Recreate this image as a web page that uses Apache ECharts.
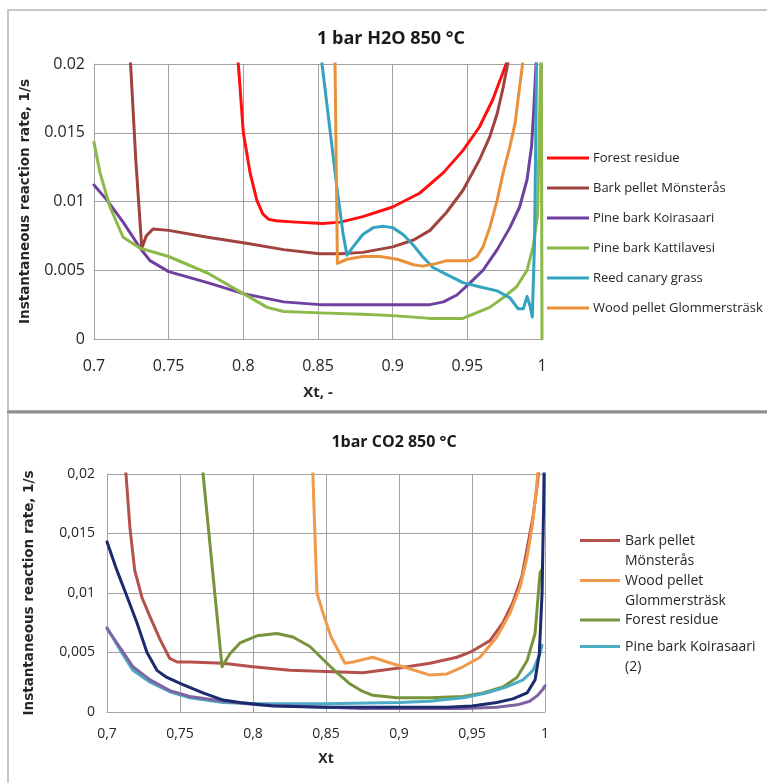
<!DOCTYPE html>
<html>
<head>
<meta charset="utf-8">
<script src="https://cdn.jsdelivr.net/npm/echarts@6/dist/echarts.min.js"></script>
<style>html,body{margin:0;padding:0;background:#fff}#c{width:767px;height:783px}</style>
</head>
<body>
<div id="c"></div>
<script>
// ---------- tick labels ----------
const xTicksTop = ['0.7','0.75','0.8','0.85','0.9','0.95','1'];
const yTicksTop = ['0','0.005','0.01','0.015','0.02'];
const xTicksBot = ['0,7','0,75','0,8','0,85','0,9','0,95','1'];
const yTicksBot = ['0','0,005','0,01','0,015','0,02'];

// ---------- top chart: 1 bar H2O 850 °C ----------
const topNames = ['Forest residue','Bark pellet Mönsterås','Pine bark Koirasaari','Pine bark Kattilavesi','Reed canary grass','Wood pellet Glommersträsk'];
const topColors = ['#FF1010','#A0433F','#7040A0','#8DB84A','#33A3BF','#E8903A'];

const h2oForest = [[0.7955,0.0215],[0.797,0.0195],[0.800,0.0150],[0.8045,0.0121],[0.809,0.0101],[0.813,0.0091],[0.817,0.0087],[0.822,0.0086],[0.835,0.0085],[0.853,0.0084],[0.865,0.0085],[0.880,0.0089],[0.900,0.0096],[0.918,0.0106],[0.934,0.0121],[0.947,0.0137],[0.958,0.0154],[0.967,0.0174],[0.976,0.0200],[0.980,0.0215]];
const h2oBark = [[0.7235,0.0215],[0.7245,0.0200],[0.728,0.0130],[0.732,0.0066],[0.735,0.0075],[0.7395,0.0080],[0.750,0.0079],[0.776,0.0074],[0.800,0.0070],[0.827,0.0065],[0.851,0.0062],[0.865,0.0062],[0.880,0.0063],[0.900,0.0067],[0.914,0.0072],[0.925,0.0079],[0.936,0.0092],[0.947,0.0108],[0.958,0.0130],[0.965,0.0147],[0.970,0.0164],[0.974,0.0183],[0.977,0.0200],[0.979,0.0215]];
const h2oKoirasaari = [[0.700,0.0112],[0.7087,0.0101],[0.7195,0.0085],[0.731,0.0066],[0.7375,0.0057],[0.750,0.0049],[0.776,0.0041],[0.800,0.0033],[0.827,0.0027],[0.851,0.0025],[0.880,0.0025],[0.925,0.0025],[0.934,0.0027],[0.943,0.0032],[0.952,0.0041],[0.9605,0.0050],[0.970,0.0065],[0.9785,0.0081],[0.985,0.0096],[0.990,0.0116],[0.993,0.0140],[0.9946,0.0169],[0.996,0.0200],[0.997,0.0215]];
const h2oKattilavesi = [[0.700,0.0143],[0.704,0.0121],[0.7107,0.0096],[0.7195,0.0074],[0.731,0.0066],[0.750,0.0060],[0.776,0.0048],[0.800,0.0033],[0.816,0.0023],[0.827,0.0020],[0.851,0.0019],[0.880,0.0018],[0.900,0.0017],[0.925,0.0015],[0.947,0.0015],[0.956,0.0019],[0.965,0.0023],[0.974,0.0030],[0.983,0.0038],[0.990,0.0050],[0.994,0.0067],[0.997,0.0090],[0.9995,0.0220],[1.000,0.0000]];
const h2oReed = [[0.852,0.0215],[0.8527,0.0200],[0.8627,0.0110],[0.8667,0.0077],[0.8694,0.0061],[0.8735,0.0067],[0.880,0.0076],[0.887,0.0081],[0.8935,0.0082],[0.900,0.0081],[0.907,0.0076],[0.914,0.0068],[0.920,0.0060],[0.927,0.0052],[0.936,0.0047],[0.947,0.0041],[0.958,0.0038],[0.970,0.0035],[0.9785,0.0030],[0.984,0.0022],[0.9875,0.0022],[0.990,0.0031],[0.992,0.0024],[0.9935,0.0016],[0.995,0.0070],[0.9965,0.0215]];
const h2oWood = [[0.861,0.0215],[0.8614,0.0200],[0.863,0.0055],[0.8694,0.0058],[0.880,0.0060],[0.8915,0.0060],[0.903,0.0058],[0.914,0.0054],[0.920,0.0053],[0.9297,0.0055],[0.936,0.0057],[0.952,0.0057],[0.9565,0.0060],[0.9605,0.0067],[0.965,0.0081],[0.970,0.0101],[0.974,0.0121],[0.9785,0.0140],[0.982,0.0157],[0.9845,0.0179],[0.987,0.0200],[0.988,0.0215]];

// ---------- bottom chart: 1bar CO2 850 °C ----------
const botNames = ['Bark pellet Mönsterås','Wood pellet Glommersträsk','Forest residue','Pine bark Koirasaari (2)','Pine bark Koirasaari','Pine bark Kattilavesi'];
const botLegendText = ['Bark pellet\nMönsterås','Wood pellet\nGlommersträsk','Forest residue','Pine bark Koirasaari\n(2)'];
const botColors = ['#B5514C','#F09A4C','#77933C','#4BACC6','#8064A2','#1C2A6E'];

const co2Bark = [[0.712,0.0215],[0.713,0.0200],[0.7157,0.0155],[0.719,0.0119],[0.724,0.0096],[0.7295,0.0080],[0.7363,0.0061],[0.743,0.0045],[0.748,0.0042],[0.757,0.0042],[0.7795,0.0041],[0.800,0.0038],[0.8253,0.0035],[0.850,0.0034],[0.8753,0.0033],[0.900,0.0037],[0.9212,0.0041],[0.9397,0.0046],[0.950,0.0051],[0.9623,0.0060],[0.9712,0.0075],[0.978,0.0092],[0.9842,0.0114],[0.988,0.0139],[0.9918,0.0164],[0.9945,0.0189],[0.9955,0.0200],[0.996,0.0215]];
const co2Wood = [[0.8405,0.0215],[0.841,0.0200],[0.8438,0.0100],[0.848,0.0083],[0.8535,0.0063],[0.863,0.0041],[0.8685,0.0042],[0.882,0.0046],[0.8918,0.0042],[0.9055,0.0037],[0.9212,0.0031],[0.9329,0.0032],[0.9438,0.0038],[0.9555,0.0046],[0.967,0.0063],[0.976,0.0083],[0.9829,0.0105],[0.9877,0.0130],[0.9911,0.0155],[0.9938,0.0184],[0.995,0.0200],[0.9955,0.0215]];
const co2Forest = [[0.7655,0.0215],[0.7658,0.0200],[0.7788,0.0038],[0.7842,0.0049],[0.7911,0.0058],[0.8027,0.0064],[0.8164,0.0066],[0.8274,0.0063],[0.839,0.0055],[0.8507,0.0041],[0.8575,0.0033],[0.866,0.0024],[0.874,0.0018],[0.882,0.0014],[0.8986,0.0012],[0.9212,0.0012],[0.9438,0.0013],[0.9575,0.0016],[0.9712,0.0021],[0.9808,0.0029],[0.9877,0.0043],[0.9932,0.0066],[0.9966,0.0117],[0.998,0.0120]];
const co2Koirasaari2 = [[0.700,0.0071],[0.709,0.0052],[0.7178,0.0035],[0.7295,0.0025],[0.743,0.0017],[0.7568,0.0012],[0.7795,0.0008],[0.8027,0.0007],[0.850,0.0007],[0.900,0.0008],[0.921,0.0009],[0.944,0.0012],[0.9598,0.0016],[0.9733,0.0021],[0.985,0.0027],[0.9918,0.0035],[0.9966,0.0049],[0.998,0.0056]];
const co2Purple = [[0.700,0.0070],[0.709,0.0054],[0.7178,0.0038],[0.7295,0.0027],[0.743,0.0018],[0.7568,0.0013],[0.7795,0.0009],[0.8027,0.0006],[0.8253,0.0005],[0.850,0.0004],[0.875,0.0003],[0.944,0.0003],[0.967,0.0004],[0.981,0.0006],[0.9895,0.0009],[0.995,0.0014],[0.9985,0.0019],[1.000,0.0022]];
const co2Navy = [[0.700,0.0143],[0.7068,0.0119],[0.7137,0.0097],[0.7205,0.0075],[0.7274,0.0050],[0.7342,0.0035],[0.741,0.0029],[0.752,0.0023],[0.7658,0.0016],[0.7795,0.0010],[0.791,0.0008],[0.8137,0.0005],[0.849,0.0004],[0.933,0.0004],[0.950,0.0005],[0.967,0.0008],[0.978,0.0011],[0.9877,0.0016],[0.9932,0.0027],[0.9961,0.0049],[0.998,0.0100],[0.999,0.0170],[0.9995,0.0215]];

const topData = [h2oForest, h2oBark, h2oKoirasaari, h2oKattilavesi, h2oReed, h2oWood];
const botData = [co2Bark, co2Wood, co2Forest, co2Koirasaari2, co2Purple, co2Navy];

// ---------- build ----------
const TXT = '#262626';
const GRID = '#A3A3A3';
const OS = 'Open Sans, Liberation Sans, sans-serif';

function xAxisCfg(gi, labels, fs, margin, name, nameGap, nfs) {
  return {
    type: 'value', gridIndex: gi, min: 0.7, max: 1, interval: 0.05,
    axisLine: { show: true, lineStyle: { color: GRID, width: 1 } },
    axisTick: { show: false },
    splitLine: { show: true, lineStyle: { color: GRID, width: 1 } },
    axisLabel: { color: TXT, fontFamily: OS, fontSize: fs, margin: margin,
      formatter: v => labels[Math.round((v - 0.7) / 0.05)] },
    name: name, nameLocation: 'middle', nameGap: nameGap,
    nameTextStyle: { color: TXT, fontFamily: OS, fontWeight: 'bold', fontSize: nfs }
  };
}
function yAxisCfg(gi, labels, fs, margin, nameGap) {
  return {
    type: 'value', gridIndex: gi, min: 0, max: 0.02, interval: 0.005,
    axisLine: { show: true, lineStyle: { color: GRID, width: 1 } },
    axisTick: { show: false },
    splitLine: { show: true, lineStyle: { color: GRID, width: 1 } },
    axisLabel: { color: TXT, fontFamily: OS, fontSize: fs, margin: margin,
      formatter: v => labels[Math.round(v / 0.005)] },
    name: 'Instantaneous reaction rate, 1/s', nameLocation: 'middle', nameGap: nameGap, nameRotate: 90,
    nameTextStyle: { color: TXT, fontFamily: 'DejaVu Sans', fontWeight: 'bold', fontSize: 13.5 }
  };
}

const series = [];
topData.forEach((d, i) => series.push({
  type: 'line', name: topNames[i], data: d, xAxisIndex: 0, yAxisIndex: 0,
  showSymbol: false, clip: true,
  lineStyle: { color: topColors[i], width: 3, join: 'round', cap: 'round' },
  itemStyle: { color: topColors[i] }, z: 3
}));
botData.forEach((d, i) => series.push({
  type: 'line', name: botNames[i], data: d, xAxisIndex: 1, yAxisIndex: 1,
  showSymbol: false, clip: true,
  lineStyle: { color: botColors[i], width: 3, join: 'round', cap: 'round' },
  itemStyle: { color: botColors[i] }, z: 3
}));

const ICON_TOPLINE = 'path://M0,0H40V3H0Z M0,23.99H0.01V24H0Z';

const option = {
  animation: false,
  backgroundColor: '#fff',
  title: [
    { text: '1 bar H2O 850 °C', left: 391, top: 30, textAlign: 'center', padding: 0,
      textStyle: { fontFamily: OS, fontWeight: 'bold', fontSize: 18, color: '#1a1a1a' } },
    { text: '1bar CO2 850 °C', left: 394, top: 434, textAlign: 'center', padding: 0,
      textStyle: { fontFamily: OS, fontWeight: 'bold', fontSize: 16, color: '#1a1a1a' } }
  ],
  grid: [
    { left: 94, top: 64, width: 448, height: 275, outerBoundsMode: 'none', containLabel: false },
    { left: 107, top: 474, width: 438, height: 238, outerBoundsMode: 'none', containLabel: false }
  ],
  xAxis: [
    xAxisCfg(0, xTicksTop, 16, 19, 'Xt, -', 46, 15),
    xAxisCfg(1, xTicksBot, 14, 15, 'Xt', 40, 14)
  ],
  yAxis: [
    yAxisCfg(0, yTicksTop, 16, 9, 62),
    yAxisCfg(1, yTicksBot, 14, 12, 71)
  ],
  legend: [
    { orient: 'vertical', left: 547, top: 151, itemWidth: 42, itemHeight: 3, itemGap: 16, padding: 0,
      icon: 'rect', itemStyle: { borderWidth: 0 },
      textStyle: { fontFamily: OS, fontSize: 13, lineHeight: 14, color: TXT, padding: [0,0,0,-1] },
      data: topNames.map((n, i) => ({ name: n, itemStyle: { color: topColors[i] } })) },
    { orient: 'vertical', left: 580, top: 531, itemWidth: 40, itemHeight: 24, itemGap: 0, padding: 0,
      itemStyle: { borderWidth: 0 },
      formatter: n => botLegendText[botNames.indexOf(n)],
      textStyle: { fontFamily: OS, fontSize: 14, lineHeight: 20, color: TXT },
      data: [0, 1].map(i => ({ name: botNames[i], icon: ICON_TOPLINE, itemStyle: { color: botColors[i] } })) },
    { orient: 'vertical', left: 580, top: 610, itemWidth: 40, itemHeight: 3, itemGap: 0, padding: 0,
      icon: 'rect', itemStyle: { borderWidth: 0 },
      textStyle: { fontFamily: OS, fontSize: 14, lineHeight: 20, color: TXT },
      data: [{ name: botNames[2], itemStyle: { color: botColors[2] } }] },
    { orient: 'vertical', left: 580, top: 637, itemWidth: 40, itemHeight: 24, itemGap: 0, padding: 0,
      itemStyle: { borderWidth: 0 },
      formatter: n => botLegendText[botNames.indexOf(n)],
      textStyle: { fontFamily: OS, fontSize: 14, lineHeight: 20, color: TXT },
      data: [{ name: botNames[3], icon: ICON_TOPLINE, itemStyle: { color: botColors[3] } }] }
  ],
  graphic: [
    { type: 'rect', z: -10, silent: true, shape: { x: 8, y: 10, width: 790, height: 401 },
      style: { fill: 'none', stroke: '#C6C6C6', lineWidth: 2 } },
    { type: 'rect', z: -10, silent: true, shape: { x: 7, y: 410.5, width: 790, height: 3 },
      style: { fill: '#8E8E8E' } },
    { type: 'line', z: -10, silent: true, shape: { x1: 8, y1: 414, x2: 8, y2: 800 },
      style: { stroke: '#C6C6C6', lineWidth: 2 } }
  ],
  series: series
};

const chart = echarts.init(document.getElementById('c'), null, { renderer: 'canvas' });
chart.setOption(option);
</script>
</body>
</html>
